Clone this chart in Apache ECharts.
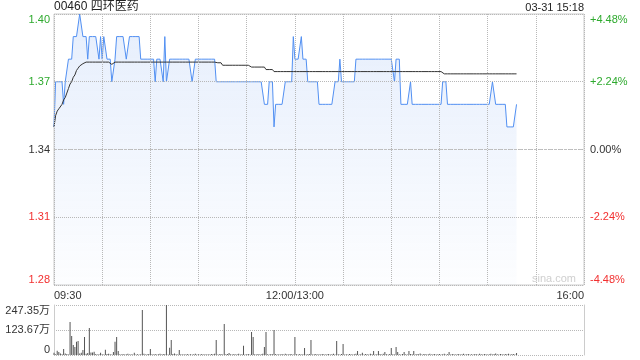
<!DOCTYPE html>
<html>
<head>
<meta charset="utf-8">
<style>html,body{margin:0;padding:0;background:#fff;}#c{width:640px;height:360px;}</style>
<script src="https://cdn.jsdelivr.net/npm/echarts@6/dist/echarts.min.js"></script>
</head>
<body>
<div id="c"></div>
<script>
var titleText = '00460 四环医药';
var timeText = '03-31 15:18';
var prevClose = 1.34;
var priceMin = 1.28, priceMax = 1.40, priceStep = 0.03;
var xLabelMap = {0: '09:30', 150: '12:00/13:00', 330: '16:00'};
var volTickLabels = ['0', '123.67万', '247.35万'];
var volMax = 247.35;

var price = [
1.35,1.37,1.37,1.37,1.37,1.37,1.36,1.37,1.37,1.38,
1.38,1.38,1.39,1.39,1.39,1.39,1.40,1.40,1.39,1.39,
1.39,1.38,1.39,1.39,1.39,1.39,1.39,1.39,1.38,1.39,
1.38,1.39,1.39,1.38,1.38,1.38,1.37,1.37,1.38,1.39,
1.39,1.39,1.39,1.39,1.39,1.38,1.38,1.39,1.39,1.39,
1.39,1.39,1.39,1.39,1.38,1.38,1.38,1.38,1.38,1.38,
1.38,1.38,1.38,1.37,1.38,1.38,1.38,1.38,1.37,1.39,
1.37,1.37,1.38,1.38,1.38,1.38,1.38,1.38,1.38,1.38,
1.38,1.38,1.38,1.38,1.38,1.38,1.37,1.37,1.38,1.38,
1.38,1.38,1.38,1.38,1.38,1.38,1.38,1.38,1.38,1.38,
1.38,1.37,1.37,1.37,1.37,1.37,1.37,1.37,1.37,1.37,
1.37,1.37,1.37,1.37,1.37,1.37,1.37,1.37,1.37,1.37,
1.37,1.37,1.37,1.37,1.37,1.37,1.37,1.37,1.37,1.37,
1.37,1.36,1.36,1.36,1.37,1.37,1.37,1.35,1.36,1.36,
1.36,1.36,1.36,1.36,1.37,1.37,1.37,1.37,1.37,1.39,
1.38,1.38,1.38,1.38,1.39,1.38,1.38,1.38,1.37,1.37,
1.37,1.37,1.37,1.37,1.37,1.36,1.36,1.36,1.36,1.36,
1.36,1.36,1.36,1.36,1.36,1.37,1.37,1.37,1.38,1.37,
1.37,1.37,1.37,1.37,1.37,1.37,1.37,1.37,1.38,1.38,
1.38,1.38,1.38,1.38,1.38,1.38,1.38,1.38,1.38,1.38,
1.38,1.38,1.38,1.38,1.38,1.38,1.38,1.38,1.38,1.38,
1.38,1.38,1.37,1.38,1.38,1.38,1.36,1.36,1.36,1.36,
1.36,1.36,1.37,1.36,1.36,1.36,1.36,1.36,1.36,1.36,
1.36,1.36,1.36,1.36,1.36,1.36,1.36,1.36,1.36,1.36,
1.36,1.36,1.37,1.37,1.37,1.36,1.36,1.36,1.36,1.36,
1.36,1.36,1.36,1.36,1.36,1.36,1.36,1.36,1.36,1.36,
1.36,1.36,1.36,1.36,1.36,1.36,1.36,1.36,1.36,1.36,
1.36,1.36,1.36,1.37,1.37,1.36,1.36,1.36,1.36,1.36,
1.36,1.36,1.35,1.35,1.35,1.35,1.35,1.35,1.36
];

var avgPrice = [
1.350,1.355,1.357,1.358,1.358,1.360,1.362,1.363,1.365,1.367,
1.369,1.370,1.372,1.373,1.375,1.376,1.377,1.377,1.378,1.3785,
1.3787,1.3787,1.3787,1.3787,1.3787,1.3787,1.3787,1.3787,1.3787,1.3787,
1.3787,1.3787,1.3787,1.3787,1.3787,1.3787,1.3777,1.3780,1.3787,1.3787,
1.3787,1.3787,1.3787,1.3787,1.3787,1.3787,1.3787,1.3787,1.3787,1.3787,
1.3787,1.3787,1.3787,1.3787,1.3787,1.3787,1.3787,1.3787,1.3787,1.3787,
1.3787,1.3787,1.3787,1.3787,1.3787,1.3787,1.3787,1.3787,1.3787,1.3787,
1.3787,1.3787,1.3787,1.3787,1.3787,1.3787,1.3787,1.3787,1.3787,1.3787,
1.3787,1.3787,1.3787,1.3787,1.3787,1.3787,1.3787,1.3787,1.3787,1.3787,
1.3787,1.3787,1.3787,1.3787,1.3787,1.3787,1.3787,1.3787,1.3787,1.3787,
1.3787,1.3784,1.3784,1.3784,1.3784,1.3773,1.3773,1.3773,1.3773,1.3773,
1.3773,1.3773,1.3773,1.3773,1.3773,1.3773,1.3773,1.3773,1.3773,1.3773,
1.3773,1.3773,1.3765,1.3765,1.3765,1.3765,1.3765,1.3765,1.3765,1.3765,
1.3765,1.3765,1.3754,1.3754,1.3754,1.3754,1.3754,1.3745,1.3745,1.3745,
1.3745,1.3745,1.3745,1.3745,1.3745,1.3745,1.3745,1.3745,1.3745,1.3745,
1.3745,1.3745,1.3745,1.3745,1.3745,1.3745,1.3745,1.3745,1.3745,1.3745,
1.3745,1.3745,1.3745,1.3745,1.3745,1.3745,1.3745,1.3745,1.3745,1.3745,
1.3745,1.3745,1.3745,1.3745,1.3745,1.3745,1.3745,1.3745,1.3745,1.3745,
1.3745,1.3745,1.3745,1.3745,1.3745,1.3745,1.3745,1.3745,1.3745,1.3745,
1.3745,1.3745,1.3745,1.3745,1.3745,1.3745,1.3745,1.3745,1.3745,1.3745,
1.3745,1.3745,1.3745,1.3745,1.3745,1.3745,1.3745,1.3745,1.3745,1.3745,
1.3745,1.3745,1.3745,1.3745,1.3745,1.3745,1.3745,1.3745,1.3745,1.3745,
1.3745,1.3745,1.3745,1.3745,1.3745,1.3745,1.3745,1.3745,1.3745,1.3745,
1.3745,1.3745,1.3745,1.3745,1.3745,1.3745,1.3745,1.3745,1.3745,1.3745,
1.3745,1.3745,1.3745,1.3735,1.3735,1.3735,1.3735,1.3735,1.3735,1.3735,
1.3735,1.3735,1.3735,1.3735,1.3735,1.3735,1.3735,1.3735,1.3735,1.3735,
1.3735,1.3735,1.3735,1.3735,1.3735,1.3735,1.3735,1.3735,1.3735,1.3735,
1.3735,1.3735,1.3735,1.3735,1.3735,1.3735,1.3735,1.3735,1.3735,1.3735,
1.3735,1.3735,1.3735,1.3735,1.3735,1.3735,1.3735,1.3735,1.3735
];

// volume in 万
var volume = [
11,4,21,15,8,4,30,8,5,3,
163,94,49,40,66,69,8,11,25,89,
6,10,134,12,12,16,5,3,4,11,
4,3,26,5,6,4,3,15,66,89,
20,4,3,5,3,4,6,3,4,3,
11,3,4,3,4,223,6,3,4,5,
30,4,3,5,3,4,6,3,5,4,
247.35,3,36,74,5,7,4,3,25,4,
3,4,3,5,3,4,3,4,6,3,
4,3,5,3,4,3,4,3,5,4,
6,74,3,4,5,3,153,4,5,10,
4,3,5,3,4,6,3,4,46,3,
4,5,3,114,89,4,3,5,3,4,
6,40,114,4,3,5,4,124,5,3,
4,3,5,3,6,4,3,5,4,3,
89,4,3,5,3,4,35,3,4,5,
74,3,4,5,3,4,3,5,4,3,
4,5,3,4,6,3,69,4,3,5,
54,3,4,3,5,4,3,4,6,20,
3,4,11,3,5,4,3,6,4,20,
3,4,20,5,3,6,15,4,3,5,
35,4,3,40,15,4,3,5,15,4,
3,20,5,4,20,3,5,4,8,3,
4,5,3,4,6,3,4,5,3,4,
5,3,4,6,3,4,15,3,5,4,
3,4,5,3,4,6,3,4,5,3,
4,3,5,4,3,6,4,3,5,4,
3,4,6,3,5,8,4,3,5,4,
3,5,4,6,3,4,5,3,10
];

// minute categories: 09:30..12:00 (shared with 13:00) .. 16:00
function pad(n){return (n<10?'0':'')+n;}
var categories = [];
for (var i = 0; i <= 330; i++) {
  var t = i <= 150 ? 9*60+30+i : 13*60 + (i-150);
  categories.push(i === 150 ? '12:00/13:00' : pad(Math.floor(t/60))+':'+pad(t%60));
}

var FONT = '"Liberation Sans", Arial, "Noto Sans CJK SC", sans-serif';
var GREEN = '#2eaa2e', RED = '#f23030', DARK = '#333';
var GRIDC = '#b8b8b8';
var pctMin = (priceMin - prevClose) / prevClose * 100;
var pctMax = (priceMax - prevClose) / prevClose * 100;

function priceColor(v){
  if (Math.abs(v - prevClose) < 1e-6) return DARK;
  return v > prevClose ? GREEN : RED;
}
function pctColor(v){
  if (Math.abs(v) < 1e-6) return DARK;
  return v > 0 ? GREEN : RED;
}

var chart = echarts.init(document.getElementById('c'), null, {renderer: 'canvas'});
chart.setOption({
  animation: false,
  textStyle: {fontFamily: FONT},
  title: [
    {text: titleText, left: 54, top: 1, padding: 0, textStyle: {fontSize: 12, fontWeight: 'normal', color: '#222', fontFamily: FONT}},
    {text: timeText, right: 56, top: 2, padding: 0, textStyle: {fontSize: 11, fontWeight: 'normal', color: '#222', fontFamily: FONT}}
  ],
  graphic: [
    {type: 'text', left: 532, top: 273, silent: true, z: 10,
     style: {text: 'sina.com', fill: '#cfcfcf', font: '11px ' + FONT}}
  ],
  grid: [
    {left: 54, top: 14, width: 530, height: 271, show: true, borderColor: '#cccccc', borderWidth: 1, backgroundColor: 'rgba(0,0,0,0)', z: 0},
    {left: 54, top: 305, width: 530, height: 50}
  ],
  xAxis: [
    {type: 'category', gridIndex: 0, data: categories, boundaryGap: false, z: 5,
     axisLine: {show: false}, axisTick: {show: false},
     axisLabel: {
       interval: function(i){ return xLabelMap[i] !== undefined; },
       formatter: function(v, i){ return xLabelMap[i] || ''; },
       color: DARK, fontSize: 11, margin: 5, fontFamily: FONT,
       alignMinLabel: 'left', alignMaxLabel: 'right'
     },
     splitLine: {show: true, interval: 29,
       lineStyle: {color: GRIDC, type: 'dotted', width: 1}}
    },
    {type: 'category', gridIndex: 1, data: categories, boundaryGap: false,
     axisLine: {show: false}, axisTick: {show: false}, axisLabel: {show: false}, splitLine: {show: false}}
  ],
  yAxis: [
    {type: 'value', gridIndex: 0, min: priceMin, max: priceMax, interval: priceStep, position: 'left', z: 5,
     axisLine: {show: false}, axisTick: {show: false},
     axisLabel: {formatter: function(v){ return v.toFixed(2); }, color: priceColor, fontSize: 11, margin: 4, fontFamily: FONT,
       verticalAlignMinLabel: 'bottom', verticalAlignMaxLabel: 'top'},
     splitLine: {show: true, lineStyle: {color: GRIDC, type: 'dotted', width: 1}}
    },
    {type: 'value', gridIndex: 0, min: pctMin, max: pctMax, interval: (pctMax - pctMin) / 4, position: 'right',
     axisLine: {show: false}, axisTick: {show: false},
     axisLabel: {formatter: function(v){ if (Math.abs(v) < 1e-6) return '0.00%'; return (v > 0 ? '+' : '') + v.toFixed(2) + '%'; },
       color: pctColor, fontSize: 11, margin: 6, fontFamily: FONT,
       verticalAlignMinLabel: 'bottom', verticalAlignMaxLabel: 'top'},
     splitLine: {show: false}
    },
    {type: 'value', gridIndex: 1, min: 0, max: volMax, interval: volMax / 2, position: 'left',
     axisLine: {show: true, lineStyle: {color: '#cccccc'}}, axisTick: {show: false},
     axisLabel: {formatter: function(v, i){ return volTickLabels[i]; }, color: DARK, fontSize: 11, margin: 4, fontFamily: FONT,
       verticalAlignMinLabel: 'bottom', verticalAlignMaxLabel: 'top'},
     splitLine: {show: true, lineStyle: {color: GRIDC, type: 'dotted', width: 1}}
    },
    {type: 'value', gridIndex: 1, min: 0, max: volMax, position: 'right',
     axisLine: {show: true, lineStyle: {color: '#cccccc'}}, axisTick: {show: false}, axisLabel: {show: false}, splitLine: {show: false}}
  ],
  series: [
    {name: 'price', type: 'line', xAxisIndex: 0, yAxisIndex: 0, data: price, symbol: 'none',
     lineStyle: {color: '#5290f2', width: 1},
     areaStyle: {color: new echarts.graphic.LinearGradient(0, 0, 0, 1, [
       {offset: 0, color: 'rgba(75,135,235,0.2)'}, {offset: 1, color: 'rgba(75,135,235,0.02)'}])},
     markLine: {silent: true, symbol: 'none', label: {show: false},
       lineStyle: {color: '#c0c0c0', type: [3, 2], width: 1},
       data: [{yAxis: prevClose}]},
     z: 3},
    {name: 'avg', type: 'line', xAxisIndex: 0, yAxisIndex: 0, data: avgPrice, symbol: 'none',
     lineStyle: {color: '#333333', width: 1}, z: 4},
    {name: 'vol', type: 'bar', xAxisIndex: 1, yAxisIndex: 2, data: volume, barWidth: 1,
     itemStyle: {color: '#555555'}}
  ]
});
</script>
</body>
</html>
